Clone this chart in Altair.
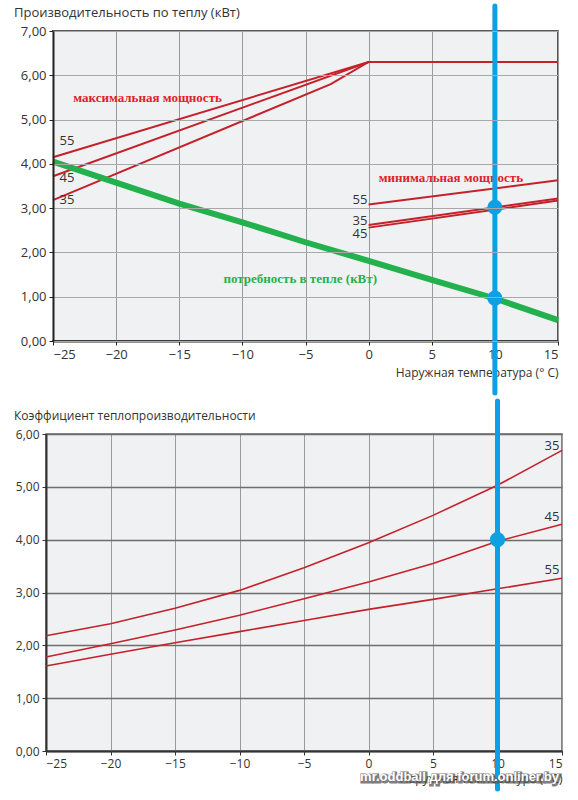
import altair as alt
import pandas as pd

# ---------- data: top chart ----------
max_x = {"35": [-25, -3, 0, 15], "45": [-25, 0, 15], "55": [-25, 0, 15]}
max_y = {"35": [3.18, 5.80, 6.30, 6.30], "45": [3.72, 6.30, 6.30], "55": [4.15, 6.30, 6.30]}
min_x = [0, 15]
min_y = {"35": [2.62, 3.22], "45": [2.56, 3.17], "55": [3.08, 3.63]}
demand_x = [-25, -15, -10, -5, 0, 5, 10, 15]
demand_y = [4.05, 3.10, 2.68, 2.23, 1.81, 1.38, 0.96, 0.47]
op_temp = 10
op_top = [3.02, 0.97]

# ---------- data: bottom chart ----------
cop_x = [-25, -20, -15, -10, -5, 0, 5, 10, 15]
cop_y = {
    "35": [2.18, 2.41, 2.70, 3.04, 3.47, 3.94, 4.46, 5.03, 5.69],
    "45": [1.78, 2.03, 2.29, 2.57, 2.88, 3.20, 3.55, 3.97, 4.29],
    "55": [1.61, 1.83, 2.05, 2.26, 2.47, 2.68, 2.87, 3.07, 3.27],
}
op_bottom = [4.0]

x_ticks = [-25, -20, -15, -10, -5, 0, 5, 10, 15]
top_y_ticks = [0, 1, 2, 3, 4, 5, 6, 7]
bot_y_ticks = [0, 1, 2, 3, 4, 5, 6]

RED = "#c4212b"
GREEN = "#22b14c"
BLUE = "#0ea0e4"
FONT = "Open Sans"
TXT = "#333333"
XTITLE = "Наружная температура (° C)"
TITLE_TOP = "Производительность по теплу (кВт)"
TITLE_BOT = "Коэффициент теплопроизводительности"

rows = []
for s in max_x:
    for i, (a, b) in enumerate(zip(max_x[s], max_y[s])):
        rows.append({"series": "max" + s, "t": a, "v": b, "o": i})
for s in min_y:
    for i, (a, b) in enumerate(zip(min_x, min_y[s])):
        rows.append({"series": "min" + s, "t": a, "v": b, "o": i})
red_df = pd.DataFrame(rows)
green_df = pd.DataFrame({"t": demand_x, "v": demand_y})
dots_top = pd.DataFrame({"t": [op_temp] * len(op_top), "v": op_top})

rows = []
for s in cop_y:
    for a, b in zip(cop_x, cop_y[s]):
        rows.append({"series": s, "t": a, "v": b})
cop_df = pd.DataFrame(rows)
dots_bot = pd.DataFrame({"t": [op_temp], "v": op_bottom})

label_expr = "replace(format(datum.value, '.2f'), '.', ',')"

INSET = 7            # top plot starts a little to the right of the bottom one
W1, H1 = 512, 310    # group width of top chart (plot = W1 - INSET)
W2, H2 = 516, 317
one = pd.DataFrame({"a": [0]})

xs_top = alt.Scale(domain=[-25, 15], nice=False, zero=False, range=[INSET, W1])
ys_top = alt.Scale(domain=[0, 7], nice=False)
xs_bot = alt.Scale(domain=[-25, 15], nice=False, zero=False)
ys_bot = alt.Scale(domain=[0, 6], nice=False)

x_top = alt.X("t:Q", scale=xs_top, axis=alt.Axis(
    values=x_ticks, title=XTITLE, titleAnchor="end", titleFontSize=12,
    titleFontWeight="normal", titleFont=FONT, titleColor=TXT, titlePadding=6,
    labelFont=FONT, labelFontSize=13, labelColor=TXT, labelPadding=3,
    tickSize=4, tickColor="#222", domainColor="#222", domainWidth=2,
    gridColor="#9a9a9a", gridWidth=1))
y_top = alt.Y("v:Q", scale=ys_top, axis=alt.Axis(
    values=top_y_ticks, title=None, labelExpr=label_expr, labelFont=FONT,
    labelFontSize=13, labelColor=TXT, labelPadding=3, tickSize=4,
    tickColor="#222", domainColor="#222", domainWidth=2, offset=-INSET,
    zindex=1, gridColor="#a8a8a8", gridWidth=1.2))

red_lines = alt.Chart(red_df).mark_line(color=RED, strokeWidth=2).encode(
    x=x_top, y=y_top, detail="series:N", order="o:Q")
green_line = alt.Chart(green_df).mark_line(color=GREEN, strokeWidth=6).encode(
    x=alt.X("t:Q", scale=xs_top), y=alt.Y("v:Q", scale=ys_top))

# white strip hiding the part of the top view left of its y axis
mask = alt.Chart(one).mark_rect(color="white").encode(
    x=alt.value(-2), x2=alt.value(INSET - 1), y=alt.value(-2), y2=alt.value(H1 + 1))


def txt(text, x, y, scale_x, scale_y, **kw):
    return alt.Chart(one).mark_text(text=text, **kw).encode(
        x=alt.datum(x, scale=scale_x), y=alt.datum(y, scale=scale_y))


num_kw = dict(font=FONT, fontSize=13, color=TXT)
ann_kw = dict(font="Liberation Serif", fontSize=13, fontWeight="bold", align="left")

top_labels = [
    txt("55", -23.9, 4.51, xs_top, ys_top, **num_kw),
    txt("45", -23.9, 3.68, xs_top, ys_top, **num_kw),
    txt("35", -23.9, 3.18, xs_top, ys_top, **num_kw),
    txt("55", -0.1, 3.18, xs_top, ys_top, align="right", **num_kw),
    txt("35", -0.1, 2.71, xs_top, ys_top, align="right", **num_kw),
    txt("45", -0.1, 2.42, xs_top, ys_top, align="right", **num_kw),
    txt("максимальная мощность", -23.4, 5.49, xs_top, ys_top, color="#e0202a", **ann_kw),
    txt("минимальная мощность", 0.8, 3.68, xs_top, ys_top, color="#e0202a", **ann_kw),
    txt("потребность в тепле (кВт)", -11.5, 1.40, xs_top, ys_top, color=GREEN, **ann_kw),
]

title_top = alt.Chart(one).mark_text(
    text=TITLE_TOP, font=FONT, fontSize=13, color=TXT, align="left").encode(
    x=alt.value(-32), y=alt.value(-18))

rule_top = alt.Chart(one).mark_rule(
    color=BLUE, strokeWidth=5, strokeCap="round").encode(
    x=alt.datum(op_temp, scale=xs_top), y=alt.value(-25), y2=alt.value(H1 + 52))
dots_t = alt.Chart(dots_top).mark_circle(color=BLUE, size=230, opacity=1).encode(
    x=alt.X("t:Q", scale=xs_top), y=alt.Y("v:Q", scale=ys_top))

top = alt.layer(red_lines, green_line, mask, *top_labels, title_top, rule_top,
                dots_t).properties(
    width=W1, height=H1,
    view=alt.ViewBackground(fill="#f0f1f3", stroke="#222", strokeWidth=1.5))

# ---------- bottom ----------
x_bot = alt.X("t:Q", scale=xs_bot, axis=alt.Axis(
    values=x_ticks, title=XTITLE, titleAnchor="end", titleFontSize=12,
    titleFontWeight="normal", titleFont=FONT, titleColor=TXT, titlePadding=4,
    labelFont=FONT, labelFontSize=12, labelColor=TXT, labelPadding=3,
    tickSize=4, tickColor="#333", domainColor="#333", domainWidth=2,
    gridColor="#9a9a9a", gridWidth=1))
y_bot = alt.Y("v:Q", scale=ys_bot, axis=alt.Axis(
    values=bot_y_ticks, title=None, labelExpr=label_expr, labelFont=FONT,
    labelFontSize=12, labelColor=TXT, labelPadding=3, tickSize=4,
    tickColor="#333", domainColor="#333", domainWidth=2,
    gridColor="#6e6e6e", gridWidth=1.5))

cop_lines = alt.Chart(cop_df).mark_line(color=RED, strokeWidth=1.6).encode(
    x=x_bot, y=y_bot, detail="series:N")
bot_labels = [
    txt("35", 14.8, 5.77, xs_bot, ys_bot, align="right", **num_kw),
    txt("45", 14.8, 4.42, xs_bot, ys_bot, align="right", **num_kw),
    txt("55", 14.8, 3.42, xs_bot, ys_bot, align="right", **num_kw),
]
title_bot = alt.Chart(one).mark_text(
    text=TITLE_BOT, font=FONT, fontSize=12, color=TXT, align="left").encode(
    x=alt.value(-32), y=alt.value(-18))
rule_bot = alt.Chart(one).mark_rule(
    color=BLUE, strokeWidth=5, strokeCap="round").encode(
    x=alt.datum(op_temp, scale=xs_bot), y=alt.value(-33), y2=alt.value(H2 + 38))
dots_b = alt.Chart(dots_bot).mark_circle(color=BLUE, size=230, opacity=1).encode(
    x=alt.X("t:Q", scale=xs_bot), y=alt.Y("v:Q", scale=ys_bot))

wm = "mr.oddball для forum.onliner.by"
wm_shadow = alt.Chart(one).mark_text(
    text=wm, font="Liberation Sans", fontSize=13, fontWeight="bold", align="right",
    color="#222", stroke="#555", strokeWidth=3, opacity=0.75).encode(
    x=alt.value(W2 - 2), y=alt.value(H2 + 27))
wm_text = alt.Chart(one).mark_text(
    text=wm, font="Liberation Sans", fontSize=13, fontWeight="bold", align="right",
    color="white").encode(x=alt.value(W2 - 3), y=alt.value(H2 + 26))

bottom = alt.layer(cop_lines, *bot_labels, title_bot, rule_bot, dots_b,
                   wm_shadow, wm_text).properties(
    width=W2, height=H2,
    view=alt.ViewBackground(fill="#f0f1f3", stroke="#666", strokeWidth=1.5))

chart = alt.vconcat(top, bottom, spacing=0).properties(
    padding={"left": 13, "top": 2, "right": 5, "bottom": 4}
).configure(background="white")

chart.save("out.html", embed_options={"renderer": "svg", "actions": False})
